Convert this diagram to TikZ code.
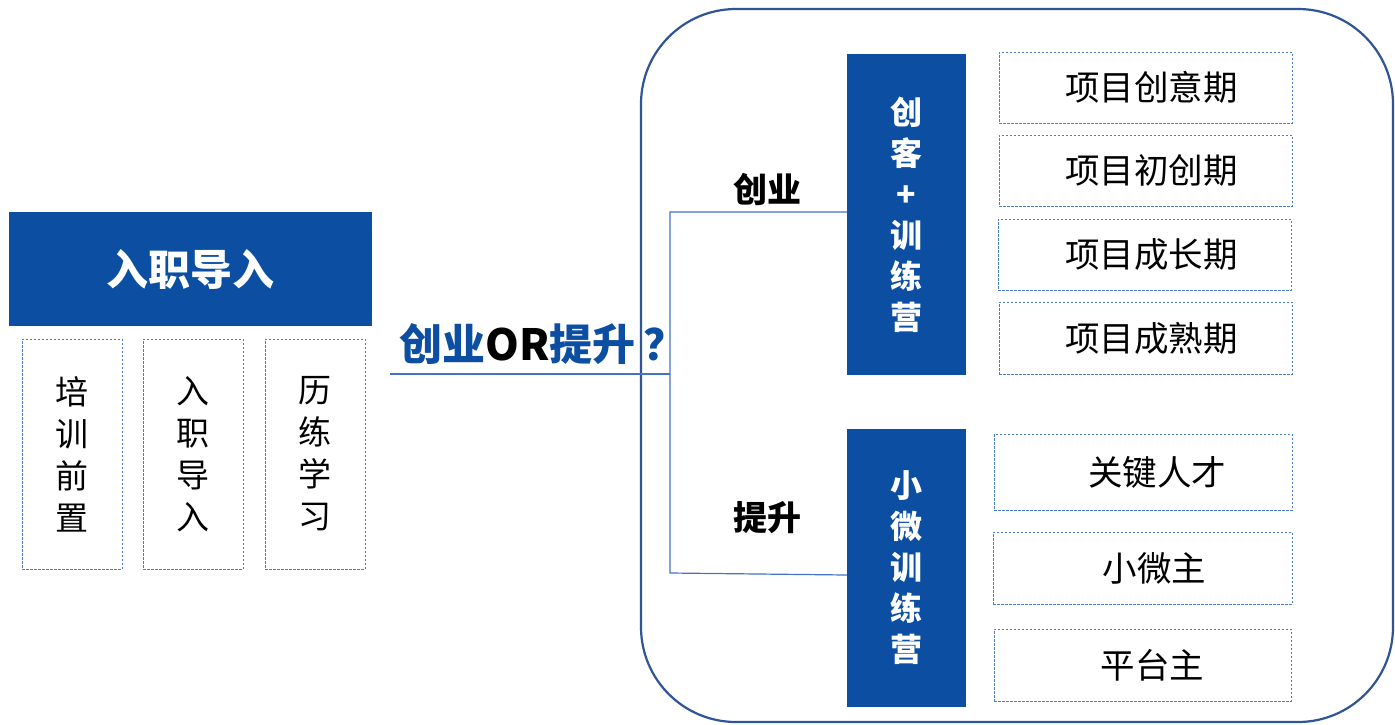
\documentclass[tikz,border=0pt]{standalone}
\usepackage{fontspec}
\setmainfont{Noto Sans CJK SC}
\definecolor{boxblue}{HTML}{0B4EA2}
\definecolor{dashblue}{HTML}{4A7CC7}
\definecolor{frameblue}{HTML}{2F5597}
\definecolor{linkblue}{HTML}{4472C4}
\begin{document}
\begin{tikzpicture}[x=1pt,y=-1pt,
  bluebox/.style={fill=boxblue,draw=none,text=white,font=\bfseries,inner sep=0pt,align=center},
  dashbox/.style={draw=dashblue,line width=1pt,dash pattern=on 2.5pt off 1.5pt,inner sep=0pt,align=center},
  vtext/.style={font=\fontsize{33}{42}\selectfont,align=center},
  vbold/.style={font=\fontsize{32}{41}\selectfont\bfseries,align=center},
  itemtext/.style={font=\fontsize{34.5}{40}\selectfont},
  link/.style={draw=linkblue,line width=1.2pt},
  lbl/.style={font=\fontsize{34}{38}\selectfont\bfseries,text=black}]
\useasboundingbox (0,0) rectangle (1395,724);
\fill[white] (0,0) rectangle (1395,724);
% outer rounded frame
\draw[frameblue,line width=2.2pt,rounded corners=95pt] (641,9) -- (1393,9) -- (1393,722) -- (641,722) -- cycle;
% left part
\node[bluebox,minimum width=363pt,minimum height=114pt,font=\fontsize{42}{46}\selectfont\bfseries] (intro) at (190.5,269) {入职导入};
\node[dashbox,minimum width=100pt,minimum height=230pt] (b1) at (72,454) {};
\node[vtext] at (b1.center) {培\\训\\前\\置};
\node[dashbox,minimum width=100pt,minimum height=230pt] (b2) at (193,454) {};
\node[vtext] at (b2.center) {入\\职\\导\\入};
\node[dashbox,minimum width=100pt,minimum height=230pt] (b3) at (315,454) {};
\node[vtext] at (b3.center) {历\\练\\学\\习};
% question
\node[font=\fontsize{43}{46}\selectfont\bfseries,text=boxblue,inner sep=0pt,anchor=west] (q) at (399,344) {创业\textcolor{black}{OR}提升\hspace{8pt}？};
% middle blue boxes
\node[bluebox,minimum width=119pt,minimum height=321pt] (ck) at (906.5,214.5) {};
\node[vbold,text=white] at (ck.center) {创\\客\\+\\训\\练\\营};
\node[bluebox,minimum width=119pt,minimum height=278pt] (xw) at (906.5,568) {};
\node[vbold,text=white] at (xw.center) {小\\微\\训\\练\\营};
% labels
\node[lbl] (cy) at (767,189) {创业};
\node[lbl] (ts) at (767,518) {提升};
% connectors
\coordinate (qs) at (390,374);
\coordinate (qm) at (670,374);
\coordinate (top) at (670,212);
\coordinate (bot) at (670,573);
\draw[link] (qs) -- (qm);
\draw[link] (ck.west |- top) -- (top) -- (bot) -- (xw.west |- 0,575);
% right items
\node[dashbox,minimum width=293pt,minimum height=71pt] (p1) at (1145.5,87.5) {};
\node[itemtext] at ([xshift=6pt]p1.center) {项目创意期};
\node[dashbox,minimum width=293pt,minimum height=71pt] (p2) at (1145.5,170.5) {};
\node[itemtext] at ([xshift=6pt]p2.center) {项目初创期};
\node[dashbox,minimum width=293pt,minimum height=71pt] (p3) at (1144.5,254.5) {};
\node[itemtext] at ([xshift=7pt]p3.center) {项目成长期};
\node[dashbox,minimum width=293pt,minimum height=72pt] (p4) at (1145.5,338) {};
\node[itemtext] at ([xshift=6pt]p4.center) {项目成熟期};
\node[dashbox,minimum width=298pt,minimum height=76pt] (s1) at (1143,472) {};
\node[itemtext] at ([xshift=14pt]s1.center) {关键人才};
\node[dashbox,minimum width=299pt,minimum height=72pt] (s2) at (1142.5,568) {};
\node[itemtext] at ([xshift=12pt]s2.center) {小微主};
\node[dashbox,minimum width=297pt,minimum height=72pt] (s3) at (1142.5,665) {};
\node[itemtext] at ([xshift=10pt]s3.center) {平台主};
\end{tikzpicture}
\end{document}
